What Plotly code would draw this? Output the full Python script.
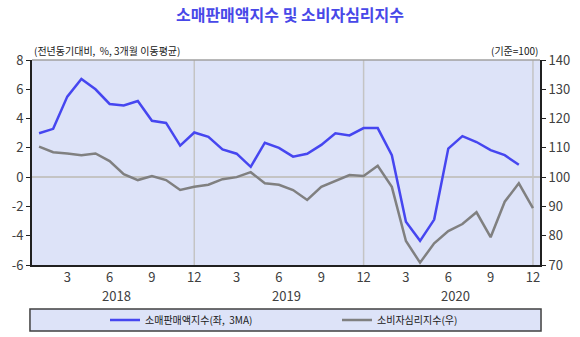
import plotly.graph_objects as go

# Monthly periods, Jan 2018 - Dec 2020
years = [2018, 2019, 2020]
month_nums = list(range(1, 13))
periods = [f"{y}-{m:02d}" for y in years for m in month_nums]

# Retail sales index (YoY %, 3-month moving average), left axis
retail = [3.0, 3.3, 5.5, 6.7, 6.0, 5.0, 4.9, 5.2, 3.85, 3.7, 2.15, 3.05,
          2.75, 1.9, 1.6, 0.7, 2.35, 2.0, 1.4, 1.6, 2.2, 3.0, 2.85, 3.35,
          3.35, 1.5, -3.05, -4.35, -2.9, 1.95, 2.8, 2.4, 1.85, 1.5, 0.85, None]

# Consumer sentiment index (base = 100), right axis
ccsi = [110.4, 108.5, 108.1, 107.5, 108.1, 105.5, 101.0, 99.0, 100.4, 99.0, 95.6, 96.7,
        97.4, 99.3, 100.0, 101.7, 97.9, 97.4, 95.6, 92.2, 96.7, 98.7, 100.7, 100.4,
        103.9, 96.7, 78.2, 70.8, 77.4, 81.6, 84.0, 88.0, 79.5, 91.6, 97.9, 89.4]

left_ticks = [8, 6, 4, 2, 0, -2, -4, -6]
right_ticks = [140, 130, 120, 110, 100, 90, 80, 70]

FONT = "Noto Sans CJK KR"
TXT = "#404040"
BG = "#dde3f8"
BLUE = "#4646f0"
GRAY = "#808080"
W, H = 580, 337
NBSP = "\u00a0"

fig = go.Figure()
fig.add_trace(go.Scatter(x=periods, y=retail, name=f"소매판매액지수(좌,{NBSP}{NBSP}3MA)",
                         mode="lines", line=dict(color=BLUE, width=2.5),
                         legend="legend"))
fig.add_trace(go.Scatter(x=periods, y=ccsi, name="소비자심리지수(우)", yaxis="y2",
                         mode="lines", line=dict(color=GRAY, width=2.5),
                         legend="legend2"))

tick_periods = [p for p in periods if p.split("-")[1] in ("03", "06", "09", "12")]
tick_text = [str(int(p.split("-")[1])) for p in tick_periods]

legend_common = dict(orientation="h", xref="container", yref="container",
                     xanchor="left", yanchor="middle", y=1 - 320 / H,
                     bgcolor="rgba(0,0,0,0)", borderwidth=0,
                     font=dict(family=FONT, size=10, color="#202020"))

fig.update_layout(
    width=W, height=H,
    margin=dict(l=32, r=40, t=60, b=72, autoexpand=False),
    paper_bgcolor="white", plot_bgcolor=BG,
    font=dict(family=FONT, size=13, color=TXT),
    title=dict(text="<b>소매판매액지수 및 소비자심리지수</b>", x=0.5, xanchor="center",
               y=1 - 15 / H, yanchor="middle",
               font=dict(family=FONT, size=16, color="#4848e8")),
    xaxis=dict(type="category", range=[-0.5, len(periods) - 0.5],
               tickvals=tick_periods, ticktext=tick_text, ticks="", showgrid=False,
               showline=True, linecolor="#202020", linewidth=1.5,
               tickfont=dict(size=13, color=TXT)),
    yaxis=dict(range=[-6, 8], tickvals=left_ticks,
               ticktext=[str(v) for v in left_ticks],
               showgrid=False, zeroline=True, zerolinecolor="#c4c4c4", zerolinewidth=1.5,
               showline=True, linecolor="#202020", linewidth=2,
               ticks="outside", ticklen=4, tickcolor="#202020",
               tickfont=dict(size=13, color=TXT)),
    yaxis2=dict(range=[70, 140], tickvals=right_ticks, overlaying="y", side="right",
                showgrid=False, zeroline=False,
                showline=True, linecolor="#202020", linewidth=2,
                ticks="outside", ticklen=4, tickcolor="#202020",
                tickfont=dict(size=13, color=TXT)),
    showlegend=True,
    legend=dict(x=105 / W, **legend_common),
    legend2=dict(x=337 / W, **legend_common),
)

# Year-end vertical gridlines
for p in periods:
    if p.endswith("-12"):
        fig.add_shape(type="line", xref="x", yref="paper", x0=p, x1=p, y0=0, y1=1,
                      line=dict(color="#c4c4c4", width=1.5), layer="below")

# Gray top frame
fig.add_shape(type="line", xref="paper", yref="paper", x0=0, x1=1, y0=1, y1=1,
              line=dict(color="#a0a0a0", width=1.5))

# Legend box
fig.add_shape(type="rect", xref="paper", yref="paper", x0=-0.004, x1=1.002,
              y0=-0.322, y1=-0.215, fillcolor=BG, layer="below",
              line=dict(color="#404040", width=1.5))

# Year labels centred under each year
for i, y in enumerate(years):
    fig.add_annotation(x=i * 12 + 5.5, xref="x", y=-0.151, yref="paper",
                       text=str(y), showarrow=False, yanchor="middle",
                       font=dict(size=13, color=TXT))

# Unit notes above the plot
fig.add_annotation(x=0, xref="paper", y=1.045, yref="paper", xanchor="left",
                   yanchor="middle", showarrow=False,
                   text=f"(전년동기대비,{NBSP}{NBSP}%, 3개월 이동평균)",
                   font=dict(size=10, color="#202020"))
fig.add_annotation(x=1, xref="paper", y=1.045, yref="paper", xanchor="right",
                   yanchor="middle", showarrow=False, text="(기준=100)",
                   font=dict(size=10, color="#202020"))

fig.write_html("out.html")
